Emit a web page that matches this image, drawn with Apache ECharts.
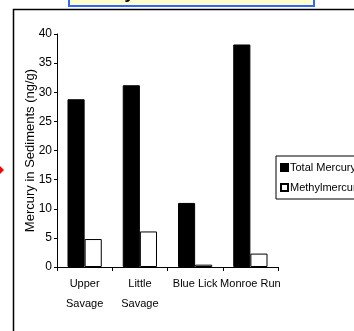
<!DOCTYPE html>
<html><head><meta charset="utf-8">
<script src="https://cdn.jsdelivr.net/npm/echarts@6/dist/echarts.min.js"></script>
<style>html,body{margin:0;padding:0;background:#fff}#c{width:354px;height:331px}</style>
</head><body><div id="c"></div>
<script>
const categories = ['Upper\nSavage', 'Little\nSavage', 'Blue Lick', 'Monroe Run'];
const totalMercury = [28.8, 31.2, 11.0, 38.2];
const methylmercury = [4.8, 6.1, 0.4, 2.3];
const seriesNames = ['Total Mercury', 'Methylmercury'];
const yTicks = [0, 5, 10, 15, 20, 25, 30, 35, 40];

const chart = echarts.init(document.getElementById('c'), null, {renderer: 'canvas'});
const font = '"Liberation Sans", Arial, sans-serif';
chart.setOption({
  animation: false,
  backgroundColor: '#fff',
  textStyle: {fontFamily: font},
  graphic: [
    {type: 'rect', shape: {x: 13.5, y: 9.5, width: 360, height: 340}, style: {fill: 'none', stroke: '#000', lineWidth: 1.5}, z: 0},
    {type: 'rect', shape: {x: 69, y: -22, width: 245, height: 28}, style: {fill: '#ffffcc', stroke: '#3366ff', lineWidth: 2}, z: 1},
    {type: 'text', x: 191, y: -7, style: {text: 'Mercury in Stream Sediments', font: 'bold 18px ' + font, fill: '#000', align: 'center', verticalAlign: 'middle'}, z: 2},
    {type: 'polygon', shape: {points: [[0, 166], [4, 170], [0, 174]]}, style: {fill: '#ff0000'}, z: 2}
  ],
  grid: {left: 57, right: 76, top: 34, bottom: 64, containLabel: false},
  legend: {
    orient: 'vertical', left: 276, top: 156,
    data: seriesNames,
    itemWidth: 7, itemHeight: 7, itemGap: 9,
    padding: [6, 4, 6, 4],
    borderColor: '#000', borderWidth: 1, borderRadius: 0,
    icon: 'rect',
    textStyle: {fontSize: 11, color: '#000', fontFamily: font, padding: [0, 0, 0, -3]}
  },
  xAxis: {
    type: 'category', data: categories,
    axisLine: {lineStyle: {color: '#000', width: 1}},
    axisTick: {show: true, length: 4, lineStyle: {color: '#000'}},
    axisLabel: {color: '#000', fontSize: 11, lineHeight: 20, margin: 7, fontFamily: font, interval: 0}
  },
  yAxis: {
    type: 'value', min: 0, max: 40, interval: 5,
    name: 'Mercury in Sediments (ng/g)',
    nameLocation: 'middle', nameGap: 20, nameRotate: 90, nameMoveOverlap: false,
    nameTextStyle: {color: '#000', fontSize: 13, fontFamily: font},
    axisLine: {show: true, lineStyle: {color: '#000', width: 1}},
    axisTick: {show: true, length: 3, lineStyle: {color: '#000'}},
    axisLabel: {color: '#000', fontSize: 12, margin: 5, fontFamily: font,
      formatter: v => yTicks.includes(v) ? String(v) : ''},
    splitLine: {show: false}
  },
  series: [
    {name: seriesNames[0], type: 'bar', data: totalMercury, barGap: '0%', barCategoryGap: '38%',
     itemStyle: {color: '#000', borderColor: '#000', borderWidth: 1}},
    {name: seriesNames[1], type: 'bar', data: methylmercury,
     itemStyle: {color: '#fff', borderColor: '#000', borderWidth: 1}}
  ]
});
</script></body></html>
